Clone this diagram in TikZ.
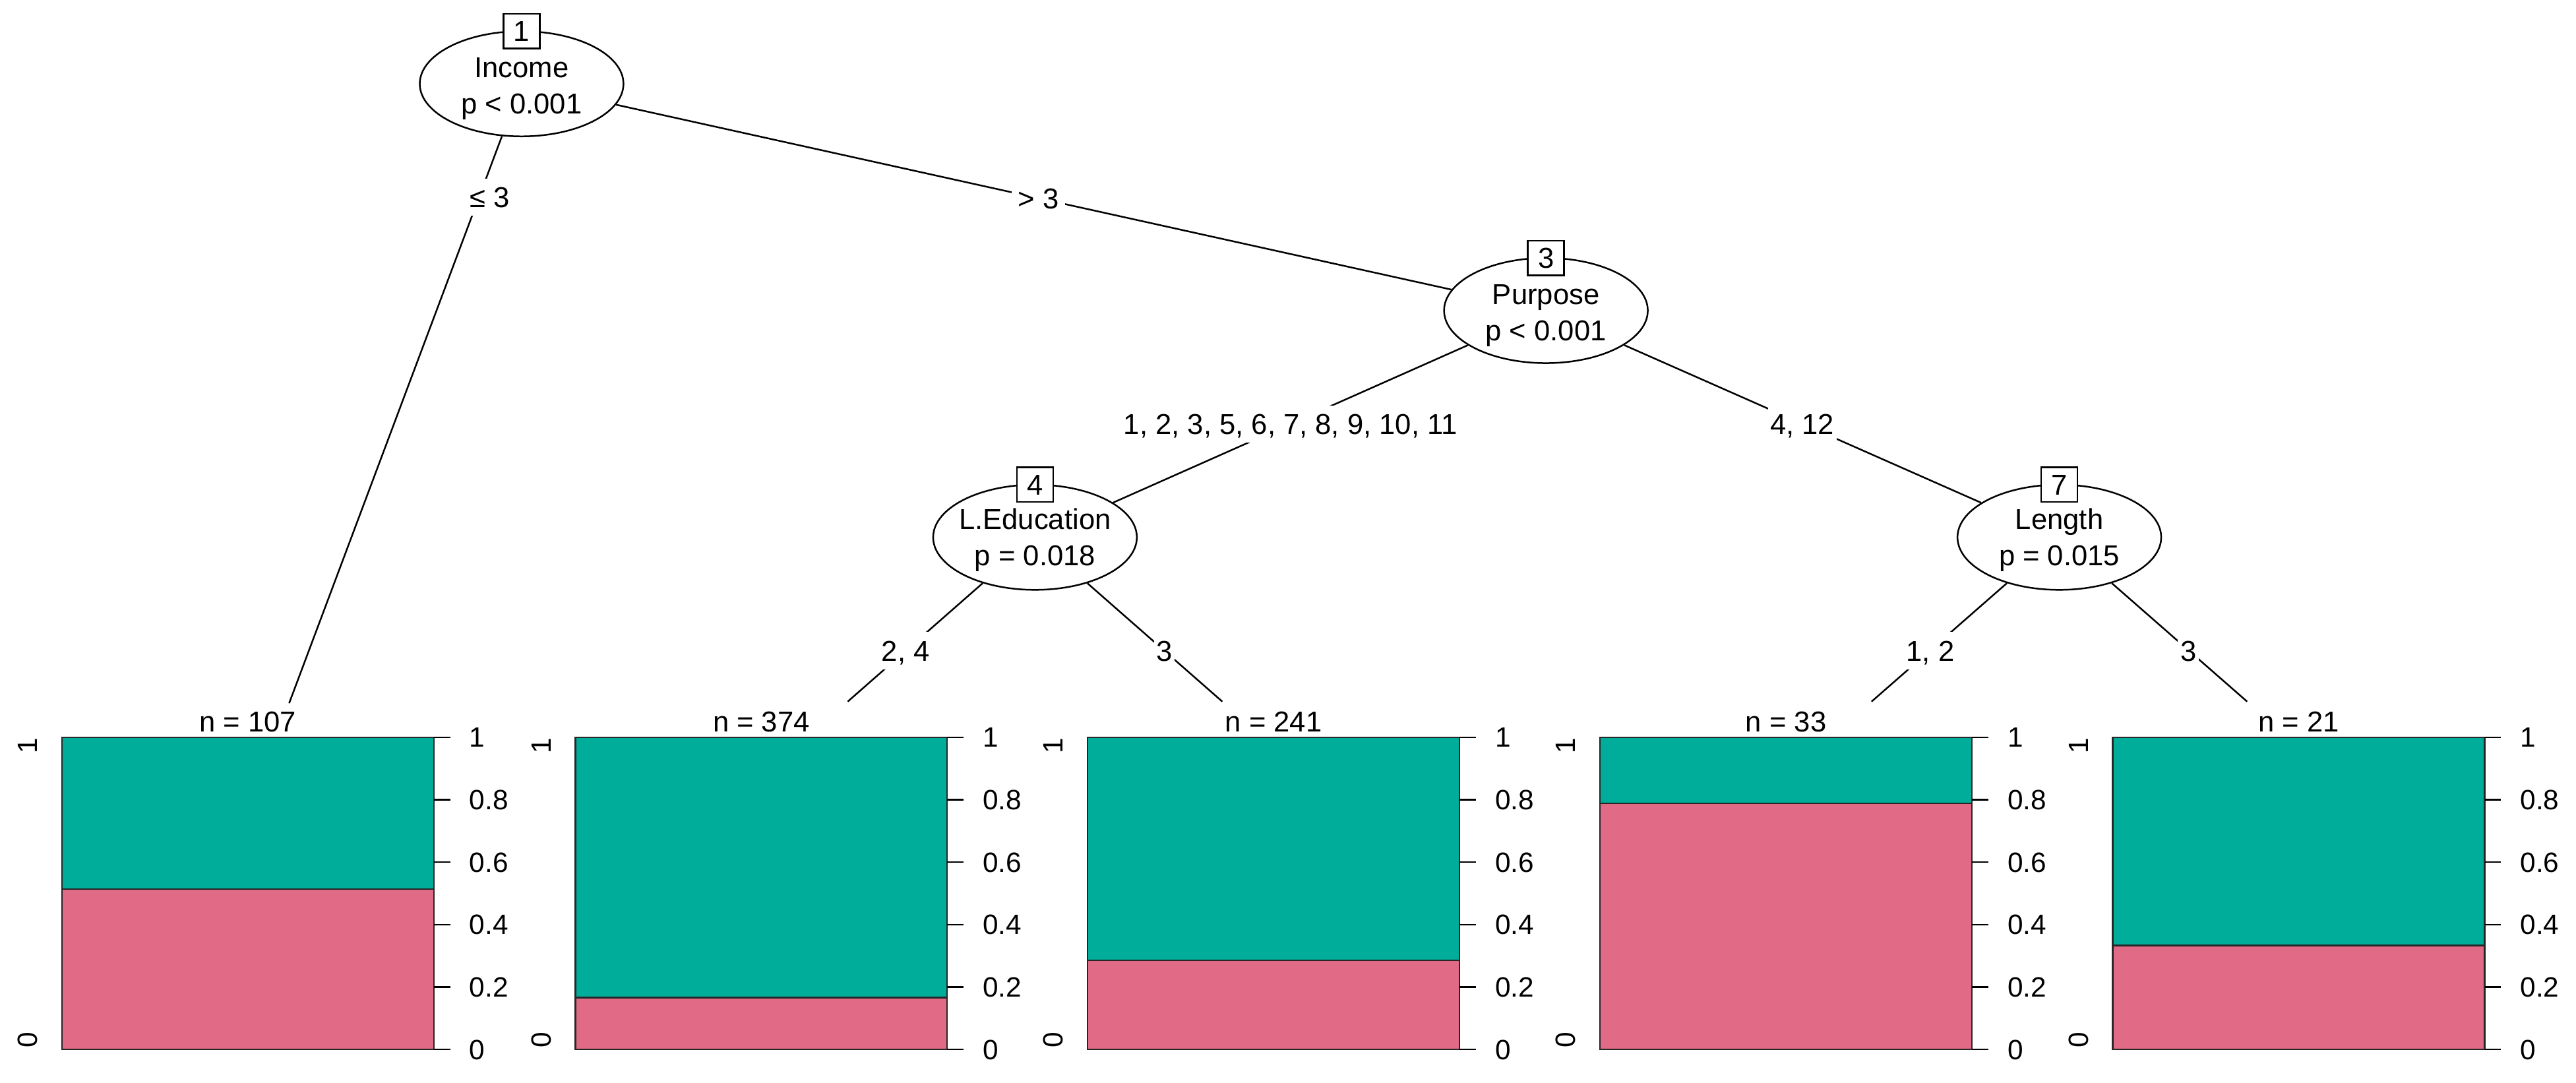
\documentclass[tikz,border=0pt]{standalone}
\usepackage{fontspec}
\setmainfont{Liberation Sans}
\usetikzlibrary{shapes.geometric}
\definecolor{tealbar}{HTML}{00AD9A}
\definecolor{pinkbar}{HTML}{E16A86}
\begin{document}
\begin{tikzpicture}[x=1pt,y=-1pt,
  every node/.style={font=\fontsize{17.5}{22}\selectfont},
  ell/.style={ellipse, draw, fill=white, line width=1pt, minimum width=124pt, minimum height=64pt, inner sep=0pt},
  idbox/.style={draw, fill=white, line width=1pt, minimum width=22pt, minimum height=21pt, inner sep=0pt, text height=12.5pt, text depth=0pt},
  ntxt/.style={inner sep=0pt, text height=12.5pt, text depth=0pt},
  elab/.style={fill=white, inner xsep=1.5pt, inner ysep=5pt, text height=12.5pt, text depth=0pt},
  conn/.style={line width=1pt},
  barline/.style={line width=0.9pt, draw=black!85},
  tickline/.style={line width=1pt},
  axlab/.style={font=\fontsize{17}{20}\selectfont, inner sep=0pt, text height=12.2pt, text depth=0pt},
  nlab/.style={inner sep=0pt, anchor=base}
]
\fill[white] (0,0) rectangle (1568,659);
\useasboundingbox (0,0) rectangle (1568,659);

% inner nodes
\node[ell] (n1) at (317.5,51) {};
\node[ell] (n3) at (941,189) {};
\node[ell] (n4) at (630,327) {};
\node[ell] (n7) at (1253.5,327) {};

\node[idbox] (id1) at (317.5,19) {1};
\node[idbox] (id3) at (941,157) {3};
\node[idbox] (id4) at (630,295) {4};
\node[idbox] (id7) at (1253.5,295) {7};

\node[ntxt] (t1a) at (317.5,41) {Income};
\node[ntxt] (t1b) at (317.5,63) {p < 0.001};
\node[ntxt] (t3a) at (941,179) {Purpose};
\node[ntxt] (t3b) at (941,201) {p < 0.001};
\node[ntxt] (t4a) at (630,316) {L.Education};
\node[ntxt] (t4b) at (630,338) {p = 0.018};
\node[ntxt] (t7a) at (1253.5,316) {Length};
\node[ntxt] (t7b) at (1253.5,338) {p = 0.015};

% leaf edge ends
\coordinate (l1) at (176,428);
\coordinate (l2) at (516,427);
\coordinate (l3) at (744,427);
\coordinate (l4) at (1139.2,427);
\coordinate (l5) at (1367.8,427);

% connectors
\draw[conn] (n1) -- (l1);
\draw[conn] (n1) -- (n3);
\draw[conn] (n3) -- (n4);
\draw[conn] (n3) -- (n7);
\draw[conn] (n4) -- (l2);
\draw[conn] (n4) -- (l3);
\draw[conn] (n7) -- (l4);
\draw[conn] (n7) -- (l5);

% edge labels
\node[elab] (e1) at (298,120) {≤ 3};
\node[elab, inner xsep=4pt] (e2) at (632,121) {> 3};
\node[elab] (e3) at (785.5,258) {1, 2, 3, 5, 6, 7, 8, 9, 10, 11};
\node[elab] (e4) at (1097,258) {4, 12};
\node[elab] (e5) at (551.3,396) {2, 4};
\node[elab] (e6) at (708.7,396) {3};
\node[elab] (e7) at (1175,396) {1, 2};
\node[elab] (e8) at (1332,396) {3};

% leaves
\foreach \lx/\f/\n/\i in {37.7/0.514/107/1, 350.2/0.166/374/2, 662/0.286/241/3, 973.9/0.788/33/4, 1286/0.333/21/5} {
  \pgfmathsetmacro\xr{\lx+226.4}
  \pgfmathsetmacro\ys{638.7-\f*190}
  \pgfmathsetmacro\xc{\lx+113.2}
  \fill[pinkbar] (\lx,\ys) rectangle (\xr,638.7);
  \fill[tealbar] (\lx,448.7) rectangle (\xr,\ys);
  \draw[barline] (\lx,448.7) rectangle (\xr,638.7);
  \draw[barline] (\lx,\ys) -- (\xr,\ys);
  \foreach \k/\t in {0/1,1/0.8,2/0.6,3/0.4,4/0.2,5/0} {
    \draw[tickline] (\xr,448.7+\k*38) -- (\xr+10,448.7+\k*38);
    \node[axlab, anchor=west] (ax\i\k) at (\xr+21.5,448.7+\k*38) {\t};
  }
  \node[nlab] (nn\i) at (\xc,445.5) {n = \n};
  \node[axlab, rotate=90] (ltop\i) at (\lx-21,454) {1};
  \node[axlab, rotate=90] (lbot\i) at (\lx-21,633) {0};
}
\end{tikzpicture}
\end{document}
